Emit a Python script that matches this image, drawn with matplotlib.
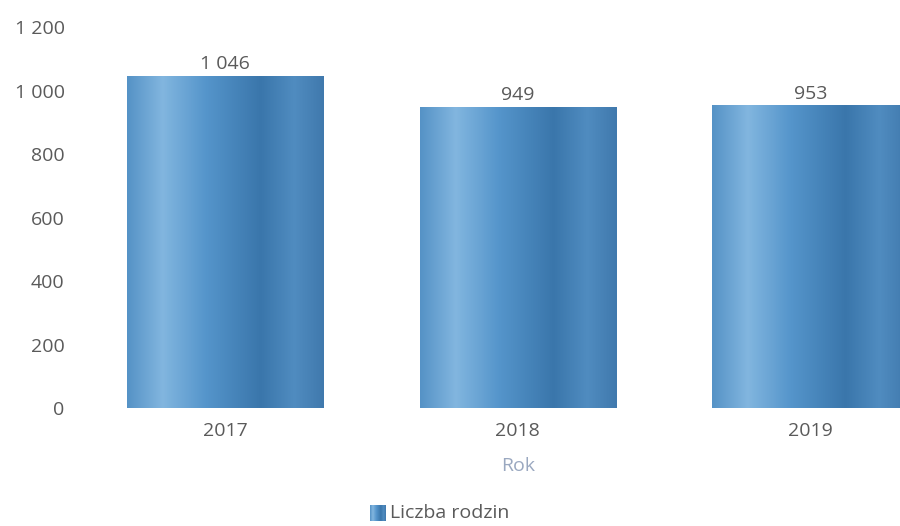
import numpy as np
import matplotlib.pyplot as plt
from matplotlib.colors import LinearSegmentedColormap

years = ["2017", "2018", "2019"]
families = [1046, 949, 953]
value_labels = ["1 046", "949", "953"]
yticks = [0, 200, 400, 600, 800, 1000, 1200]
ytick_labels = ["0", "200", "400", "600", "800", "1 000", "1 200"]

plt.rcParams["font.family"] = ["Open Sans", "DejaVu Sans"]

# cylinder-like shading across each bar
shade = LinearSegmentedColormap.from_list("shade", [
    (0.00, "#5592c6"),
    (0.18, "#82b6df"),
    (0.40, "#5595cb"),
    (0.68, "#3a76ab"),
    (0.85, "#508cc0"),
    (1.00, "#4079ad"),
])
grad = np.linspace(0, 1, 256).reshape(1, -1)

fig = plt.figure(figsize=(9, 5.26), dpi=100)
ax = fig.add_axes([0.0872, 0.2243, 0.976, 0.7243])

x = np.arange(len(years))
width = 0.67
bars = ax.bar(x, families, width=width, color="#4a8bc2")
for b in bars:
    b.set_facecolor("none")
    b.set_edgecolor("none")
    x0, y0 = b.get_x(), b.get_y()
    im = ax.imshow(grad, cmap=shade, aspect="auto",
                   extent=[x0, x0 + b.get_width(), y0, y0 + b.get_height()],
                   zorder=2)
    im.set_clip_path(b)

for xi, v, lab in zip(x, families, value_labels):
    ax.text(xi, v + 8, lab, ha="center", va="bottom", fontsize=14, color="#5a5a5a")

ax.set_xlim(-0.5, 2.5)
ax.set_ylim(0, 1200)
ax.set_xticks(x)
ax.set_xticklabels(years)
ax.set_yticks(yticks)
ax.set_yticklabels(ytick_labels)
ax.tick_params(axis="both", length=0, labelsize=14, labelcolor="#5a5a5a")
ax.tick_params(axis="y", pad=10)
ax.tick_params(axis="x", pad=10)
for s in ax.spines.values():
    s.set_visible(False)

ax.set_xlabel("Rok", fontsize=14, color="#9aa8c0", labelpad=12)

# legend swatch + text
sw = fig.add_axes([370 / 900, 1 - 521 / 526, 16 / 900, 16 / 526])
sw.imshow(grad, cmap=shade, aspect="auto")
sw.axis("off")
fig.text(390 / 900, 1 - 513 / 526, "Liczba rodzin", fontsize=14,
         color="#5a5a5a", va="center", ha="left")

fig.savefig("out.png", dpi=100)
